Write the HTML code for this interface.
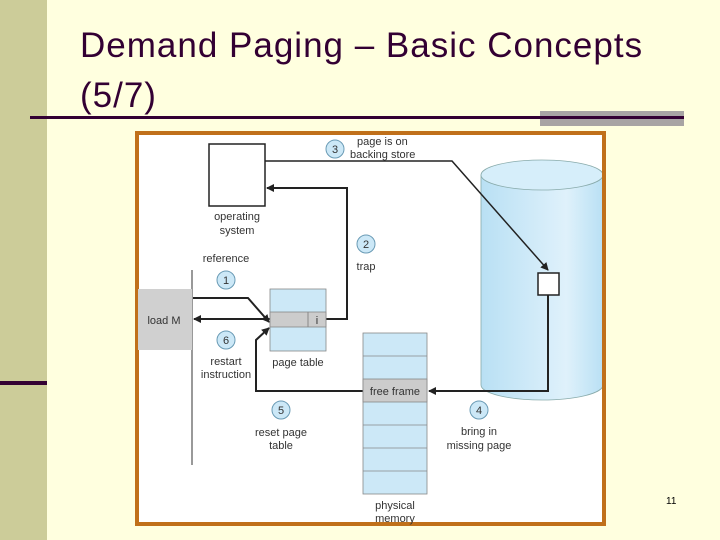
<!DOCTYPE html>
<html><head><style>
body{margin:0;width:720px;height:540px;background:#ffffdf;position:relative;overflow:hidden;font-family:"Liberation Sans",sans-serif}
</style></head><body>
<div style="position:absolute;left:0;top:0;width:47px;height:540px;background:#cccc99"></div>
<div style="position:absolute;left:0;top:381px;width:47px;height:4px;background:#330033"></div>
<div style="position:absolute;left:80px;top:21px;font-size:35px;letter-spacing:1px;line-height:50px;color:#330033">Demand Paging – Basic Concepts<br>(5/7)</div>
<div style="position:absolute;left:540px;top:111px;width:144px;height:15px;background:#a8a4a4"></div>
<div style="position:absolute;left:30px;top:116px;width:654px;height:3px;background:#330033"></div>
<svg width="720" height="540" style="position:absolute;left:0;top:0" font-family="Liberation Sans, sans-serif" font-size="11" fill="#333">
<defs>
<linearGradient id="g" x1="0" x2="1"><stop offset="0" stop-color="#b9e0f4"/><stop offset="0.7" stop-color="#dff1fb"/><stop offset="1" stop-color="#b9e0f4"/></linearGradient>
<marker id="a" markerWidth="8" markerHeight="8" refX="7" refY="4" orient="auto" markerUnits="userSpaceOnUse"><path d="M0,0L8,4L0,8z" fill="#222"/></marker>
<clipPath id="c"><rect x="139" y="135" width="463" height="387"/></clipPath>
</defs>
<rect x="137" y="133" width="467" height="391" fill="#fff" stroke="#c0701a" stroke-width="4"/>
<g clip-path="url(#c)">
<path d="M481,175 L481,385 A61,15 0 0 0 603,385 L603,175z" fill="url(#g)" stroke="#8aa" stroke-width="0.8"/>
<ellipse cx="542" cy="175" rx="61" ry="15" fill="#d6eefa" stroke="#8aa" stroke-width="0.8"/>
</g>
<g stroke="#222" stroke-width="1.5" fill="none">
<path d="M265,161 L452,161 L548,270" marker-end="url(#a)"/>
<path d="M548,295 L548,391 L429,391" stroke-width="2" marker-end="url(#a)"/>
<path d="M326,319 L347,319 L347,188 L267,188" stroke-width="2" marker-end="url(#a)"/>
<path d="M192,298 L248,298 L269,322" stroke-width="2" marker-end="url(#a)"/>
<path d="M270,319 L194,319" stroke-width="2" marker-end="url(#a)"/>
<path d="M363,391 L256,391 L256,340 L269,328" stroke-width="2" marker-end="url(#a)"/>
</g>
<line x1="192" y1="270" x2="192" y2="465" stroke="#999" stroke-width="2"/>
<rect x="138" y="289" width="54" height="61" fill="#d0d0d0"/>
<rect x="209" y="144" width="56" height="62" fill="#fff" stroke="#222" stroke-width="1.5"/>
<rect x="538" y="273" width="21" height="22" fill="#fff" stroke="#222" stroke-width="1.5"/>
<rect x="270" y="289" width="56" height="62" fill="#cce8f7" stroke="#888" stroke-width="0.8"/>
<rect x="270" y="312" width="56" height="15" fill="#ccc" stroke="#888" stroke-width="0.8"/>
<line x1="308" y1="312" x2="308" y2="327" stroke="#888"/>
<rect x="363" y="333" width="64" height="161" fill="#cce8f7" stroke="#888" stroke-width="0.8"/>
<rect x="363" y="379" width="64" height="23" fill="#ccc" stroke="#888" stroke-width="0.8"/>
<g stroke="#888" stroke-width="0.8"><line x1="363" y1="356" x2="427" y2="356"/><line x1="363" y1="425" x2="427" y2="425"/><line x1="363" y1="448" x2="427" y2="448"/><line x1="363" y1="471" x2="427" y2="471"/></g>
<g fill="#cce8f7" stroke="#6a9bb5" stroke-width="1">
<circle cx="335" cy="149" r="9"/><circle cx="366" cy="244" r="9"/><circle cx="226" cy="280" r="9"/><circle cx="226" cy="340" r="9"/><circle cx="281" cy="410" r="9"/><circle cx="479" cy="410" r="9"/>
</g>
<g text-anchor="middle">
<text x="335" y="153">3</text><text x="366" y="248">2</text><text x="226" y="284">1</text><text x="226" y="344">6</text><text x="281" y="414">5</text><text x="479" y="414">4</text>
<text x="237" y="220">operating</text><text x="237" y="234">system</text>
<text x="226" y="262">reference</text>
<text x="366" y="270">trap</text>
<text x="164" y="324">load M</text>
<text x="317" y="324">i</text>
<text x="226" y="365">restart</text><text x="226" y="378">instruction</text>
<text x="298" y="366">page table</text>
<text x="395" y="395">free frame</text>
<text x="281" y="436">reset page</text><text x="281" y="449">table</text>
<text x="479" y="435">bring in</text><text x="479" y="449">missing page</text>
<text x="395" y="509">physical</text><text x="395" y="522">memory</text>
</g>
<text x="357" y="145">page is on</text><text x="350" y="158">backing store</text>
<text x="666" y="504" font-size="10" fill="#000">11</text>
</svg>
</body></html>
